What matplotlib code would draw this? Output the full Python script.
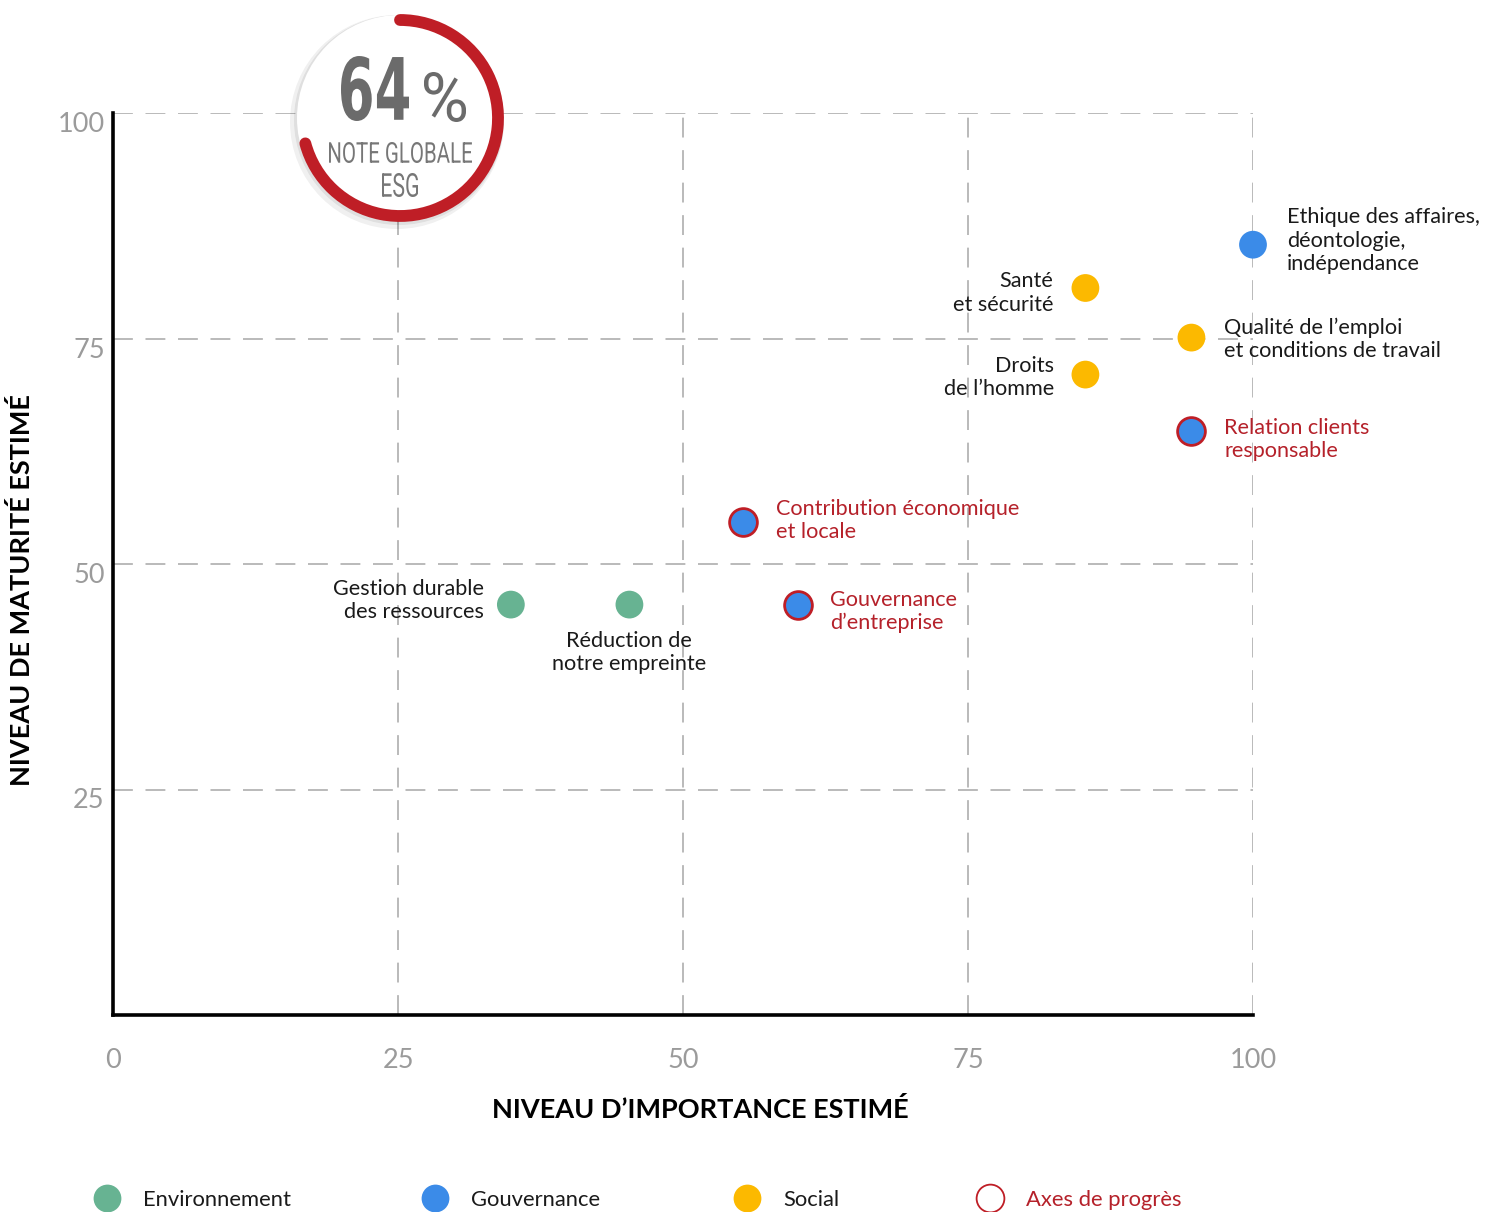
"""Matrice de matérialité ESG : importance estimée vs maturité estimée."""

import matplotlib
matplotlib.use("Agg")
import matplotlib.pyplot as plt
from matplotlib.font_manager import FontProperties
from matplotlib.patches import Arc, Circle, PathPatch
from matplotlib.textpath import TextPath
from matplotlib.transforms import Affine2D, ScaledTranslation

plt.rcParams["font.family"] = ["Lato", "DejaVu Sans"]

# --- données ---------------------------------------------------------------
labels = [
    "Ethique des affaires,\ndéontologie,\nindépendance",
    "Santé\net sécurité",
    "Qualité de l’emploi\net conditions de travail",
    "Droits\nde l’homme",
    "Relation clients\nresponsable",
    "Contribution économique\net locale",
    "Gouvernance\nd’entreprise",
    "Gestion durable\ndes ressources",
    "Réduction de\nnotre empreinte",
]
importance = [100, 85.3, 94.6, 85.3, 94.6, 55.3, 60.1, 34.9, 45.3]
maturite = [85.4, 80.6, 75.1, 71.0, 64.7, 54.7, 45.5, 45.5, 45.5]
pilier = ["Gouvernance", "Social", "Social", "Social", "Gouvernance",
          "Gouvernance", "Gouvernance", "Environnement", "Environnement"]
axe_progres = [False, False, False, False, True, True, True, False, False]

note_globale = 64
ticks = [0, 25, 50, 75, 100]

COL = {"Environnement": "#67b392", "Gouvernance": "#3b8be8", "Social": "#fcb900"}
RED = "#bf1e26"
RED_TXT = "#b5212a"

# placement des étiquettes : (dx px, dy px, ha, va)
label_pos = [
    (34, 4, "left", "center"),
    (-32, -5, "right", "center"),
    (33, -2, "left", "center"),
    (-31, -3, "right", "center"),
    (33, -8, "left", "center"),
    (33, 1, "left", "center"),
    (32, -7, "left", "center"),
    (-27, 4, "right", "center"),
    (0, -26, "center", "top"),
]

W, H = 1494, 1212
fig = plt.figure(figsize=(W / 100, H / 100), dpi=100)
ax = fig.add_axes([113 / W, (H - 1015) / H, (1253 - 113) / W, (1015 - 113) / H])
ax.set_xlim(0, 100)
ax.set_ylim(0, 100)

for s in ("top", "right"):
    ax.spines[s].set_visible(False)
for s in ("left", "bottom"):
    ax.spines[s].set_linewidth(2.6)
    ax.spines[s].set_color("black")

grid_kw = dict(color="#b4b4b4", lw=1.3, dashes=(11, 7), zorder=0)
for v in ticks[1:]:
    ax.plot([v, v], [0, 100], **grid_kw)
    ax.plot([0, 100], [v, v], **grid_kw)

ax.set_xticks(ticks)
ax.set_yticks(ticks[1:])
ax.tick_params(length=0, labelsize=19.5, labelcolor="#9b9b9b")
ax.tick_params(axis="x", pad=24)
ax.tick_params(axis="y", pad=6)
off = ScaledTranslation(0, -9 / 100, fig.dpi_scale_trans)
for t in ax.get_yticklabels():
    t.set_transform(t.get_transform() + off)

for x, y, lab, p, prog, (dx, dy, ha, va) in zip(
        importance, maturite, labels, pilier, axe_progres, label_pos):
    ax.scatter(x, y, s=400, color=COL[p], zorder=3, clip_on=False,
               edgecolors=RED if prog else "none", linewidths=2 if prog else 0)
    ax.annotate(lab, (x, y), xytext=(dx * 0.72, dy * 0.72), textcoords="offset points",
                ha=ha, va=va, fontsize=15.6, linespacing=1.2,
                color=RED_TXT if prog else "#1a1a1a", annotation_clip=False)

fig.text(700 / W, (H - 1110) / H, "NIVEAU D’IMPORTANCE ESTIMÉ", ha="center", va="center",
         fontsize=19.5, fontweight="bold")
fig.text(22 / W, (H - 590) / H, "NIVEAU DE MATURITÉ ESTIMÉ", ha="center", va="center",
         rotation=90, fontsize=19.5, fontweight="bold")

# --- pastille note globale + légende (repère en pixels) --------------------
ov = fig.add_axes([0, 0, 1, 1], zorder=5)
ov.set_xlim(0, W)
ov.set_ylim(0, H)
ov.axis("off")


def condensed(s, prop, x0, x1, ytop, ybot, color):
    """Texte étroit : chemin du glyphe étiré dans la boîte (pixels, origine en haut)."""
    tp = TextPath((0, 0), s, size=1, prop=prop)
    bb = tp.get_extents()
    tr = (Affine2D().translate(-bb.x0, -bb.y0)
          .scale((x1 - x0) / bb.width, (ybot - ytop) / bb.height)
          .translate(x0, H - ybot))
    ov.add_patch(PathPatch(tr.transform_path(tp), color=color, lw=0))


cx, cy = 400, H - 118
ov.add_patch(Circle((cx - 3, cy - 4), 107, color="#000000", alpha=0.06, lw=0))
ov.add_patch(Circle((cx - 1, cy - 2), 105, color="#000000", alpha=0.07, lw=0))
ov.add_patch(Circle((cx, cy), 103, color="white", lw=0))
arc = Arc((cx, cy), 196, 196, theta1=-165, theta2=90, color=RED, lw=8.5)
arc.set_capstyle("round")
ov.add_patch(arc)

bold = FontProperties(family="DejaVu Sans", weight="bold")
thin = FontProperties(family="Roboto")
condensed(f"{note_globale}", bold, 341, 409, 56, 121, "#6b6b6b")
condensed("%", thin, 424, 466, 72, 122, "#6b6b6b")
condensed("NOTE GLOBALE", thin, 329, 472, 142, 163, "#777777")
condensed("ESG", thin, 382, 418, 173, 197, "#777777")

leg_items = ["Environnement", "Gouvernance", "Social", "Axes de progrès"]
leg_x = [107, 435, 747, 990]
ly = H - 1198
for name, x in zip(leg_items, leg_x):
    if name in COL:
        ov.scatter(x, ly, s=400, color=COL[name], lw=0)
        tc = "#1a1a1a"
    else:
        ov.scatter(x, ly, s=400, facecolor="white", edgecolors=RED, lw=1.3)
        tc = RED_TXT
    ov.text(x + 36, ly - 2, name, ha="left", va="center", fontsize=15.8, color=tc)

fig.savefig("out.png", dpi=100, facecolor="white")
